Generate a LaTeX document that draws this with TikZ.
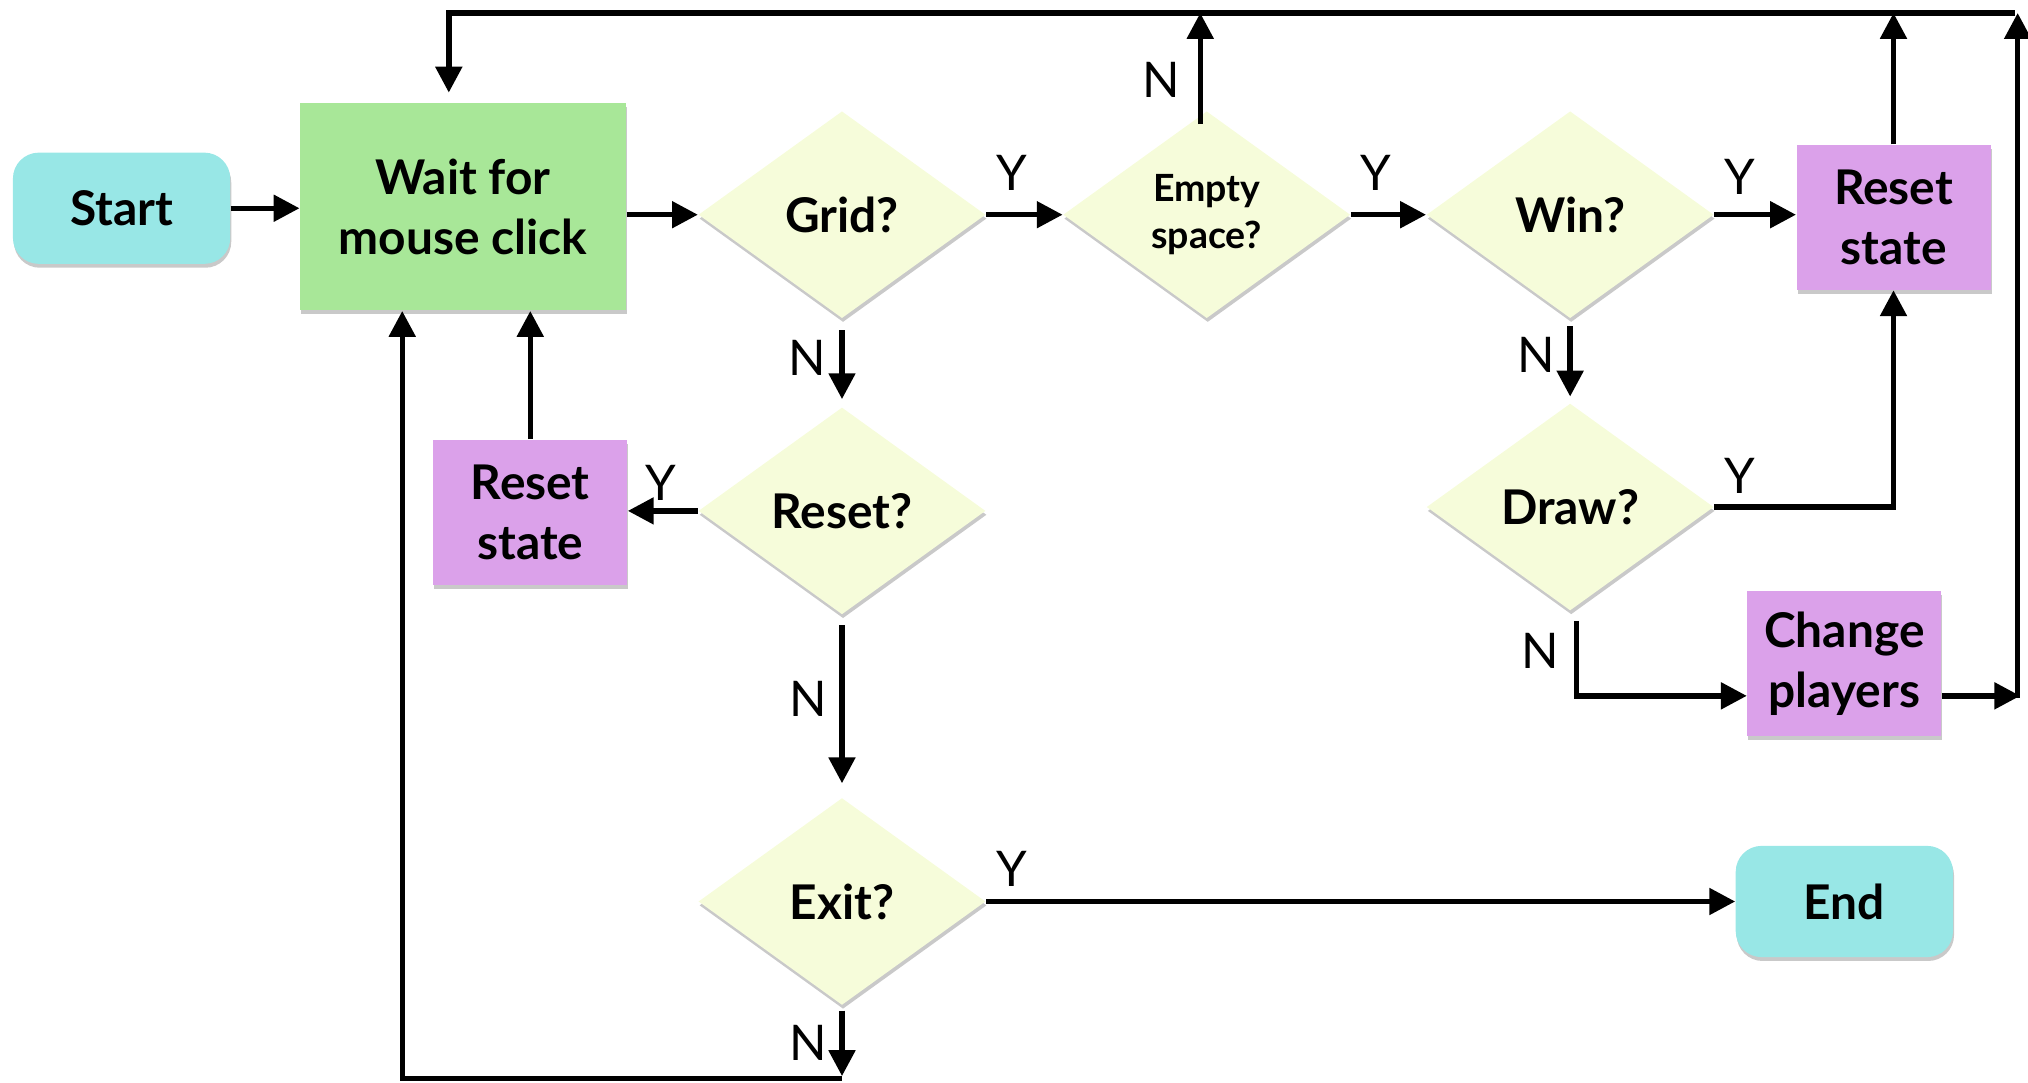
\documentclass[tikz,border=0pt]{standalone}
\usepackage{fontspec}
\setmainfont{Lato}
\usetikzlibrary{arrows.meta,shapes.geometric,shadows,calc}

\definecolor{termc}{HTML}{98E7E6}
\definecolor{waitc}{HTML}{A8E798}
\definecolor{actc}{HTML}{DBA1EA}
\definecolor{decc}{HTML}{F6FCDA}

\begin{document}
\begin{tikzpicture}[x=0.5pt,y=-0.5pt,
  base/.style={inner sep=0pt, align=center,
    font=\bfseries\fontsize{18.5}{23}\selectfont,
    drop shadow={shadow xshift=0.4pt,shadow yshift=-1.5pt,opacity=0.3,fill=black!70}},
  term/.style={base, rounded corners=10pt, fill=termc, minimum width=84pt, minimum height=43pt},
  waitbox/.style={base, fill=waitc, minimum width=126pt, minimum height=80pt},
  act/.style={base, fill=actc, minimum width=75pt, minimum height=56pt},
  dec/.style={base, diamond, fill=decc, minimum width=111pt, minimum height=80pt},
  conn/.style={line width=2.1pt},
  arr/.style={conn, -{Triangle[length=10pt,width=10pt]}},
  lab/.style={font=\fontsize{19}{19}\selectfont, inner sep=0pt}
]
\useasboundingbox (0,0) rectangle (1568,837);

% nodes
\node[term] (start) at (94,161) {Start};
\node[waitbox] (wait) at (358,160) {Wait for\\mouse click};
\node[dec] (grid) at (651,166) {Grid?};
\node[dec, font=\bfseries\fontsize{14.5}{18}\selectfont] (empty) at (933,166) {Empty\\space?};
\node[dec] (win) at (1214,166) {Win?};
\node[act] (resetR) at (1464,168) {Reset\\state};
\node[dec] (reset) at (651,395) {Reset?};
\node[act] (resetL) at (410,396) {Reset\\state};
\node[dec] (draw) at (1214,392) {Draw?};
\node[act] (change) at (1426,513) {Change\\players};
\node[dec] (exit) at (651,697) {Exit?};
\node[term] (end) at (1426,697) {End};

% loop corners
\coordinate (topL) at (347,10);
\coordinate (topR) at (1560,10);
\coordinate (rightB) at (1560,540);
\coordinate (emptyN) at (928,96);
\coordinate (exitDown) at (651,834);
\coordinate (botL) at (311,834);
\coordinate (drawN) at (1219,480);
\coordinate (drawC) at (1219,538);

% main row
\draw[arr] (start.east) -- (start.east -| wait.west);
\draw[arr] (wait.east |- grid.west) -- (grid.west);
\draw[arr] (grid.east) -- (empty.west);
\draw[arr] (empty.east) -- (win.west);
\draw[arr] (win.east) -- (win.east -| resetR.west);

% return paths to the top
\draw[arr] (emptyN) -- (emptyN |- topL);
\draw[arr] (resetR.north) -- (resetR.north |- topL);
\draw[arr] (rightB) -- (topR);
\draw[arr] ([xshift=-1pt]topR) -- (topL) -- ([yshift=4pt]wait.north -| topL);

% grid / reset / exit column
\draw[arr, shorten <=4.5pt, shorten >=3pt] (grid.south) -- (reset.north);
\draw[arr] (reset.west) -- (reset.west -| resetL.east);
\draw[arr] (resetL.north) -- (resetL.north |- wait.south);
\draw[arr, shorten <=4pt, shorten >=5.5pt] (reset.south) -- (exit.north);
\draw[arr] (exit.east) -- (end.west);
\draw[arr, shorten <=2pt] (exit.south) -- ([yshift=1pt]exitDown);
\draw[arr] (exitDown) -- (botL) -- (botL |- wait.south);

% win / draw column
\draw[arr, shorten <=3pt, shorten >=2.5pt] (win.south) -- (draw.north);
\draw[arr] (draw.east) -- (draw.east -| resetR.south) -- (resetR.south);
\draw[arr] (drawN) -- (drawC) -- (drawC -| change.west);
\draw[arr] (drawC -| change.east) -- ([xshift=1pt]drawC -| rightB);

% branch labels
\node[lab] (y1) at (782,134) {Y};
\node[lab] (y2) at (1064,134) {Y};
\node[lab] (y3) at (1345,137) {Y};
\node[lab] (n1) at (898,62) {N};
\node[lab] (n2) at (624,277) {N};
\node[lab] (y4) at (511,373) {Y};
\node[lab] (n3) at (625,540) {N};
\node[lab] (y5) at (782,672) {Y};
\node[lab] (n4) at (625,806) {N};
\node[lab] (n5) at (1188,274) {N};
\node[lab] (y6) at (1345,368) {Y};
\node[lab] (n6) at (1191,503) {N};
\end{tikzpicture}
\end{document}
